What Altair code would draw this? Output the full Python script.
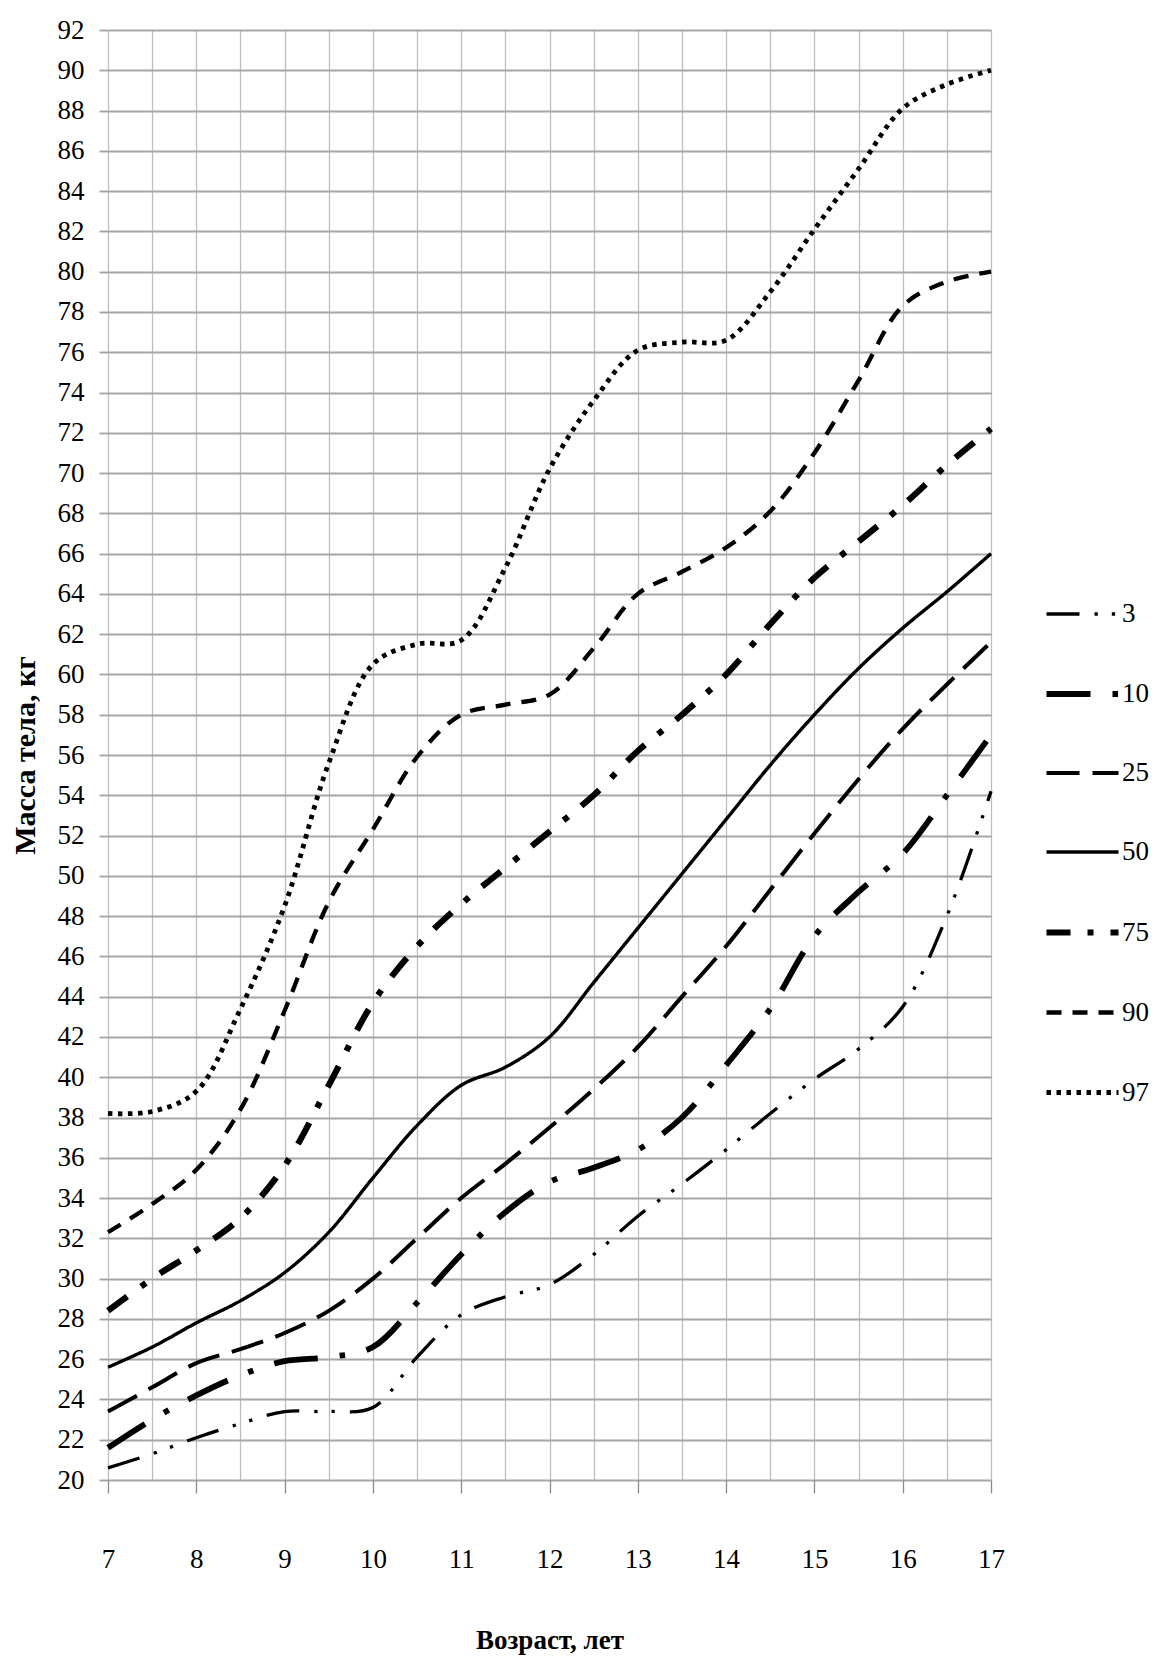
import altair as alt
import pandas as pd

ages = [7, 7.5, 8, 8.5, 9, 9.5, 10, 10.5, 11, 11.5, 12, 12.5, 13, 13.5, 14, 14.5, 15, 15.5, 16, 16.5, 17]

p3 = [20.6, 21.3, 22.1, 22.8, 23.4, 23.4, 23.6, 26.1, 28.2, 29.1, 29.7, 31.2, 33.1, 34.7, 36.4, 38.2, 39.9, 41.4, 43.5, 48.0, 54.2]
p10 = [21.6, 23.0, 24.2, 25.2, 25.9, 26.1, 26.6, 28.8, 31.2, 33.3, 34.8, 35.5, 36.4, 38.0, 40.6, 43.4, 47.0, 49.2, 51.1, 54.0, 57.0]
p25 = [23.4, 24.6, 25.8, 26.5, 27.3, 28.4, 30.0, 32.0, 34.0, 35.7, 37.5, 39.4, 41.5, 44.0, 46.5, 49.3, 52.1, 54.8, 57.3, 59.5, 61.6]
p50 = [25.6, 26.6, 27.8, 28.9, 30.3, 32.3, 35.0, 37.6, 39.6, 40.5, 42.0, 44.7, 47.4, 50.1, 52.8, 55.5, 58.0, 60.3, 62.3, 64.1, 66.0]
p75 = [28.4, 30.0, 31.4, 33.0, 35.6, 39.6, 43.7, 46.5, 48.6, 50.4, 52.2, 54.0, 56.2, 58.0, 60.0, 62.5, 64.8, 66.6, 68.4, 70.4, 72.2]
p90 = [32.3, 33.7, 35.4, 38.4, 43.3, 48.7, 52.3, 55.9, 58.0, 58.5, 59.0, 61.3, 64.0, 65.1, 66.3, 68.1, 71.0, 74.6, 78.3, 79.5, 80.0]
p97 = [38.2, 38.3, 39.3, 43.4, 48.5, 55.6, 60.5, 61.5, 61.7, 65.3, 70.2, 73.6, 76.1, 76.5, 76.6, 79.0, 82.1, 85.1, 88.1, 89.3, 90.0]

series_names = ["3", "10", "25", "50", "75", "90", "97"]
series_values = [p3, p10, p25, p50, p75, p90, p97]

x_grid_values = [7, 7.5, 8, 8.5, 9, 9.5, 10, 10.5, 11, 11.5, 12, 12.5, 13, 13.5, 14, 14.5, 15, 15.5, 16, 16.5, 17]
y_tick_values = list(range(20, 93, 2))

rows = []
for name, vals in zip(series_names, series_values):
    for a, v in zip(ages, vals):
        rows.append({"age": a, "weight": v, "series": name})
df = pd.DataFrame(rows)

dash_range = [
    [33, 15, 3.3, 14, 3.3, 15],
    [44, 22, 5.5, 22],
    [33, 13],
    [1, 0],
    [24, 17, 6, 17],
    [15, 11],
    [4.5, 5.5],
]
width_range = [3.3, 5.8, 4, 3.4, 6.2, 4.3, 4.8]

SERIF = "Liberation Serif"

legend_common = dict(
    title=None,
    orient="none",
    legendX=935,
    legendY=546,
    symbolType="stroke",
    symbolSize=5184,
    symbolStrokeColor="black",
    symbolOpacity=1,
    labelFont=SERIF,
    labelFontSize=27,
    labelColor="black",
    labelOffset=0,
    rowPadding=28,
    padding=0,
)

chart = (
    alt.Chart(df)
    .mark_line(interpolate="catmull-rom", color="black", strokeCap="butt")
    .encode(
        x=alt.X(
            "age:Q",
            scale=alt.Scale(domain=[7, 17], nice=False, zero=False),
            axis=alt.Axis(
                values=x_grid_values,
                labelExpr="datum.value % 1 === 0 ? format(datum.value, 'd') : ''",
                labelFont=SERIF,
                labelFontSize=27,
                labelColor="black",
                labelPadding=53,
                labelFlush=False,
                tickSize=13,
                tickColor="#8c8c8c",
                tickWidth=1.3,
                tickOpacity={"condition": {"test": "datum.value % 1 !== 0", "value": 0}, "value": 1},
                grid=True,
                gridColor="#bdbdbd",
                gridWidth=1.3,
                domain=False,
                title="Возраст, лет",
                titleFont=SERIF,
                titleFontSize=27,
                titleFontWeight="bold",
                titleColor="black",
                titlePadding=55,
            ),
        ),
        y=alt.Y(
            "weight:Q",
            scale=alt.Scale(domain=[20, 92], nice=False, zero=False),
            axis=alt.Axis(
                values=y_tick_values,
                labelFont=SERIF,
                labelFontSize=27,
                labelColor="black",
                labelPadding=15,
                labelFlush=False,
                labelOverlap=False,
                tickSize=9,
                tickColor="#a0a0a0",
                tickWidth=1.8,
                grid=True,
                gridColor="#a6a6a6",
                gridWidth=1.8,
                domain=False,
                title="Масса тела, кг",
                titleFont=SERIF,
                titleFontSize=30,
                titleFontWeight="bold",
                titleColor="black",
                titlePadding=17,
            ),
        ),
        strokeDash=alt.StrokeDash(
            "series:N",
            scale=alt.Scale(domain=series_names, range=dash_range),
            legend=alt.Legend(**legend_common),
        ),
        strokeWidth=alt.StrokeWidth(
            "series:N",
            scale=alt.Scale(type="ordinal", domain=series_names, range=width_range),
            legend=alt.Legend(**legend_common),
        ),
        detail="series:N",
    )
    .properties(
        width=883,
        height=1450,
        autosize=alt.AutoSizeParams(type="none"),
        padding={"left": 100, "top": 22, "right": 160, "bottom": 176},
        background="white",
    )
    .configure_view(stroke=None)
)

chart.save("out.html", embed_options={"renderer": "svg", "actions": False})
